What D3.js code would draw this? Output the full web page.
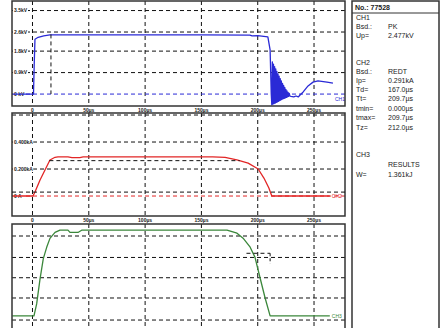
<!DOCTYPE html>
<html>
<head>
<meta charset="utf-8">
<script src="https://cdn.jsdelivr.net/npm/d3@7"></script>
<style>
  body { margin: 0; background: #fff; }
  svg { display: block; font-family: "Liberation Sans", Arial, sans-serif; }
</style>
</head>
<body>
<script>
// time axis (µs)
var timeTicks = [0, 50, 100, 150, 200, 250];
var timeLabels = ["0", "50µs", "100µs", "150µs", "200µs", "250µs"];

// CH1 voltage, kV
var ch1 = [[-18, 0], [0.9, 0], [1.5, 1.2], [2.2, 2.3], [5, 2.38], [10, 2.44], [15.5, 2.48],
  [150, 2.48], [193, 2.47], [195, 2.44], [200, 2.45], [209, 2.4], [211, 1.85], [212, 0],
  [212.5, -0.45], [213, 1.35], [213.5, -0.42], [214, 1.25], [214.5, -0.4], [215, 1.15],
  [215.5, -0.38], [216, 1.05], [216.5, -0.35], [217, 0.95], [217.5, -0.33], [218, 0.85],
  [218.5, -0.3], [219, 0.75], [219.5, -0.27], [220, 0.65], [220.5, -0.25], [221, 0.55],
  [221.5, -0.22], [222, 0.45], [222.5, -0.2], [223, 0.36], [223.5, -0.18], [224, 0.28],
  [224.5, -0.16], [225, 0.2], [225.5, -0.14], [226, 0.13], [226.5, -0.12], [227, 0.07],
  [227.5, -0.1], [228, 0.03], [228.5, -0.08], [229.5, -0.1], [232, -0.12], [234, -0.08],
  [236, -0.12], [238, -0.02], [240.2, 0.08], [244.7, 0.34], [249.1, 0.5], [253.5, 0.55],
  [261.5, 0.5], [266.8, 0.46]];
var ch1Grid = [3.5, 2.6, 1.8, 0.9];
var ch1GridLabels = ["3.5kV", "2.6kV", "1.8kV", "0.9kV"];

// CH2 current, kA
var ch2 = [[-18, 0], [0.4, 0], [2.2, 0.03], [6.7, 0.119], [11.1, 0.193], [15.5, 0.267],
  [20, 0.287], [22.6, 0.29], [31.5, 0.29], [35, 0.285], [42, 0.285], [45, 0.29], [160, 0.29],
  [171, 0.287], [181.5, 0.267], [191.5, 0.244], [200.4, 0.2], [205.5, 0.133], [209.9, 0.059],
  [212.5, 0], [264, 0]];
var ch2Grid = [0.6, 0.4, 0.2];
var ch2GridLabels = ["", "0.400kA", "0.200kA"];

// CH3 power, kW
var ch3 = [[-18, 0], [1.3, 0], [3.7, 100], [6.7, 310], [9.6, 480], [12.6, 575], [15.5, 650],
  [20, 700], [24.4, 720], [31.5, 720], [33.3, 700], [40.4, 700], [44, 720], [172.7, 720],
  [181.6, 694], [187, 652], [193.3, 576], [197.6, 491], [202, 322], [206.5, 152], [211, 0],
  [264, 0]];
var ch3Grid = [670, 490, 320, 150, -35];

// result table
var infoRows = [
  ["CH1", ""], ["Bsd.:", "PK"], ["Up=", "2.477kV"], ["", ""],
  ["CH2", ""], ["Bsd.:", "REDT"], ["Ip=", "0.291kA"], ["Td=", "167.0µs"], ["Tt=", "209.7µs"],
  ["tmin=", "0.000µs"], ["tmax=", "209.7µs"], ["Tz=", "212.0µs"], ["", ""],
  ["CH3", ""], ["", "RESULTS"], ["W=", "1.361kJ"]];
var infoY = [17, 26, 35, 44, 62, 71, 80, 89, 98, 108, 117, 127, 140, 154, 164, 174];

var W = 442, H = 328;
var svg = d3.select("body").append("svg").attr("width", W).attr("height", H);

var x = d3.scaleLinear().domain([-18.2, 277.5]).range([12, 345]);

var panels = [
  {id: "p1", top: 1, bottom: 106, domain: [-0.5, 3.9], data: ch1, color: "#2a2ad6",
   grid: ch1Grid, gridLabels: ch1GridLabels, zeroLabel: "0 kV", zeroColor: "#2a2ad6", name: "CH1", nameAt: -0.2},
  {id: "p2", top: 113, bottom: 216, domain: [-0.148, 0.615], data: ch2, color: "#e22626",
   grid: ch2Grid, gridLabels: ch2GridLabels, zeroLabel: "0 A", zeroColor: "#e22626", name: "CH2", nameAt: 0},
  {id: "p3", top: 224, bottom: 330, domain: [-118.6, 770.8], data: ch3, color: "#3b873b",
   grid: ch3Grid, gridLabels: [], zeroLabel: null, zeroColor: null, name: "CH3", nameAt: 0}
];

panels.forEach(function(p) {
  var y = d3.scaleLinear().domain(p.domain).range([p.bottom, p.top]);
  var g = svg.append("g");

  g.append("clipPath").attr("id", "clip-" + p.id)
    .append("rect").attr("x", 12).attr("y", p.top).attr("width", 333).attr("height", p.bottom - p.top);

  // vertical grid
  g.selectAll(".vg").data(timeTicks).enter().append("line")
    .attr("x1", function(d) { return x(d); }).attr("x2", function(d) { return x(d); })
    .attr("y1", p.top).attr("y2", p.bottom)
    .attr("stroke", "#111").attr("stroke-width", 1).attr("stroke-dasharray", "4,3");

  // horizontal grid
  g.selectAll(".hg").data(p.grid).enter().append("line")
    .attr("x1", 12).attr("x2", 345)
    .attr("y1", function(d) { return y(d); }).attr("y2", function(d) { return y(d); })
    .attr("stroke", "#111").attr("stroke-width", 1).attr("stroke-dasharray", "4,3");

  if (p.zeroColor) {
    g.append("line").attr("x1", 12).attr("x2", 345).attr("y1", y(0)).attr("y2", y(0))
      .attr("stroke", p.zeroColor).attr("stroke-width", 1).attr("stroke-dasharray", "4,3");
  }

  // level labels
  var labs = p.grid.map(function(d, i) { return [d, p.gridLabels[i]]; })
    .filter(function(d) { return d[1]; });
  if (p.zeroLabel) labs.push([0, p.zeroLabel]);
  labs.forEach(function(d) {
    g.append("rect").attr("x", 13).attr("y", y(d[0]) - 3).attr("width", d[1].length * 2.6 + 2)
      .attr("height", 6).attr("fill", "#fff");
    g.append("text").attr("x", 14).attr("y", y(d[0]) + 1.8)
      .attr("font-size", 5).attr("font-weight", "bold").attr("fill", "#222").text(d[1]);
  });

  // trace
  var line = d3.line().x(function(d) { return x(d[0]); }).y(function(d) { return y(d[1]); });
  g.append("path").datum(p.data).attr("d", line)
    .attr("clip-path", "url(#clip-" + p.id + ")")
    .attr("fill", "none").attr("stroke", p.color).attr("stroke-width", 1.3)
    .attr("stroke-linejoin", "round");

  g.append("text").attr("x", x(p.data[p.data.length - 1][0]) + 2).attr("y", y(p.nameAt) + 2)
    .attr("font-size", 5).attr("fill", p.color).text(p.name);

  p.y = y;
  p.g = g;

  // frame
  g.append("rect").attr("x", 12).attr("y", p.top).attr("width", 333).attr("height", p.bottom - p.top)
    .attr("fill", "none").attr("stroke", "#333").attr("stroke-width", 1.5);
});

// cursors
var p1 = panels[0], p2 = panels[1], p3 = panels[2];
p1.g.append("line").attr("x1", x(16.4)).attr("x2", x(16.4)).attr("y1", p1.y(2.5)).attr("y2", p1.y(0))
  .attr("stroke", "#111").attr("stroke-dasharray", "4,3");
p2.g.append("line").attr("x1", x(15)).attr("x2", x(184)).attr("y1", p2.y(0.262)).attr("y2", p2.y(0.262))
  .attr("stroke", "#111").attr("stroke-dasharray", "4,3");
p2.g.append("line").attr("x1", 12).attr("x2", 345).attr("y1", p2.y(0.029)).attr("y2", p2.y(0.029))
  .attr("stroke", "#111").attr("stroke-dasharray", "4,3");
p3.g.append("line").attr("x1", x(190)).attr("x2", x(211)).attr("y1", p3.y(525)).attr("y2", p3.y(525))
  .attr("stroke", "#111").attr("stroke-dasharray", "4,3");
p3.g.append("line").attr("x1", x(211)).attr("x2", x(211)).attr("y1", p3.y(525)).attr("y2", p3.y(440))
  .attr("stroke", "#111").attr("stroke-dasharray", "3,2");

// time labels between panels
[109.5, 220].forEach(function(ty) {
  svg.selectAll(null).data(timeTicks).enter().append("text")
    .attr("x", function(d) { return x(d); }).attr("y", ty + 2)
    .attr("text-anchor", "middle").attr("font-size", 5).attr("font-weight", "bold").attr("fill", "#222")
    .text(function(d, i) { return timeLabels[i]; });
});

// info panel
svg.append("rect").attr("x", 352).attr("y", 1).attr("width", 87).attr("height", 330)
  .attr("fill", "none").attr("stroke", "#333").attr("stroke-width", 1.5);
svg.append("line").attr("x1", 352).attr("x2", 439).attr("y1", 13).attr("y2", 13)
  .attr("stroke", "#333").attr("stroke-width", 1);
svg.append("text").attr("x", 355).attr("y", 9.5).attr("font-size", 7).attr("font-weight", "bold")
  .attr("fill", "#222").text("No.: 77528");

infoRows.forEach(function(r, i) {
  svg.append("text").attr("x", 356).attr("y", infoY[i] + 2.5).attr("font-size", 7)
    .attr("fill", "#222").text(r[0]);
  svg.append("text").attr("x", 388).attr("y", infoY[i] + 2.5).attr("font-size", 7)
    .attr("fill", "#222").text(r[1]);
});
</script>
</body>
</html>
